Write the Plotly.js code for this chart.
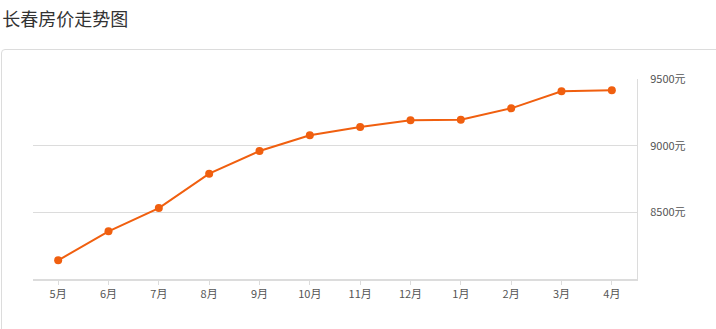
<!DOCTYPE html>
<html>
<head>
<meta charset="utf-8">
<script src="https://cdn.plot.ly/plotly-3.0.1.min.js"></script>
<style>
html,body{margin:0;padding:0;background:#fff;}
#wrap{position:relative;width:716px;height:329px;overflow:hidden;}
#card{position:absolute;left:1px;top:49px;width:730px;height:300px;border:1px solid #dcdcdc;border-radius:4px;box-sizing:border-box;}
#chart{position:absolute;left:0;top:0;width:716px;height:329px;}
</style>
</head>
<body>
<div id="wrap">
<div id="card"></div>
<div id="chart"></div>
</div>
<script>
var months = ['5月','6月','7月','8月','9月','10月','11月','12月','1月','2月','3月','4月'];
var prices = [8140, 8358, 8532, 8790, 8960, 9078, 9140, 9190, 9195, 9280, 9408, 9415];
var yTicks = [8500, 9000, 9500];
var yTickLabels = ['8500元', '9000元', '9500元'];
var chartTitle = '长春房价走势图';

var font = '"Noto Sans CJK SC", "Noto Sans", sans-serif';
var trace = {
  x: months,
  y: prices,
  type: 'scatter',
  mode: 'lines+markers',
  line: {color: '#f05f0f', width: 2},
  marker: {color: '#f05f0f', size: 8},
  hoverinfo: 'x+y'
};
var layout = {
  width: 716, height: 329,
  margin: {l: 33, r: 79, t: 79, b: 50},
  paper_bgcolor: 'rgba(0,0,0,0)',
  plot_bgcolor: 'rgba(0,0,0,0)',
  font: {family: font, size: 11, color: '#555'},
  title: {
    text: chartTitle,
    font: {family: font, size: 18, color: '#333'},
    xref: 'container', yref: 'container',
    x: 0.003, xanchor: 'left',
    y: 1 - 20/329, yanchor: 'middle'
  },
  showlegend: false,
  xaxis: {
    type: 'category',
    range: [-0.5, 11.5],
    showgrid: false,
    showline: true, linecolor: '#dcdcdc', linewidth: 2,
    ticks: 'outside', ticklen: 4, tickcolor: '#dcdcdc', tickwidth: 1,
    tickfont: {family: font, size: 11, color: '#555'},
    fixedrange: true, zeroline: false
  },
  yaxis: {
    side: 'right',
    range: [8000, 9500],
    tickmode: 'array',
    tickvals: yTicks,
    ticktext: yTickLabels,
    showgrid: true, gridcolor: '#dcdcdc', gridwidth: 1,
    showline: true, linecolor: '#dcdcdc', linewidth: 1,
    ticks: '', ticklabelstandoff: 10,
    tickfont: {family: font, size: 11, color: '#555'},
    zeroline: false, fixedrange: true
  }
};
Plotly.newPlot('chart', [trace], layout, {displayModeBar: false});
</script>
</body>
</html>
